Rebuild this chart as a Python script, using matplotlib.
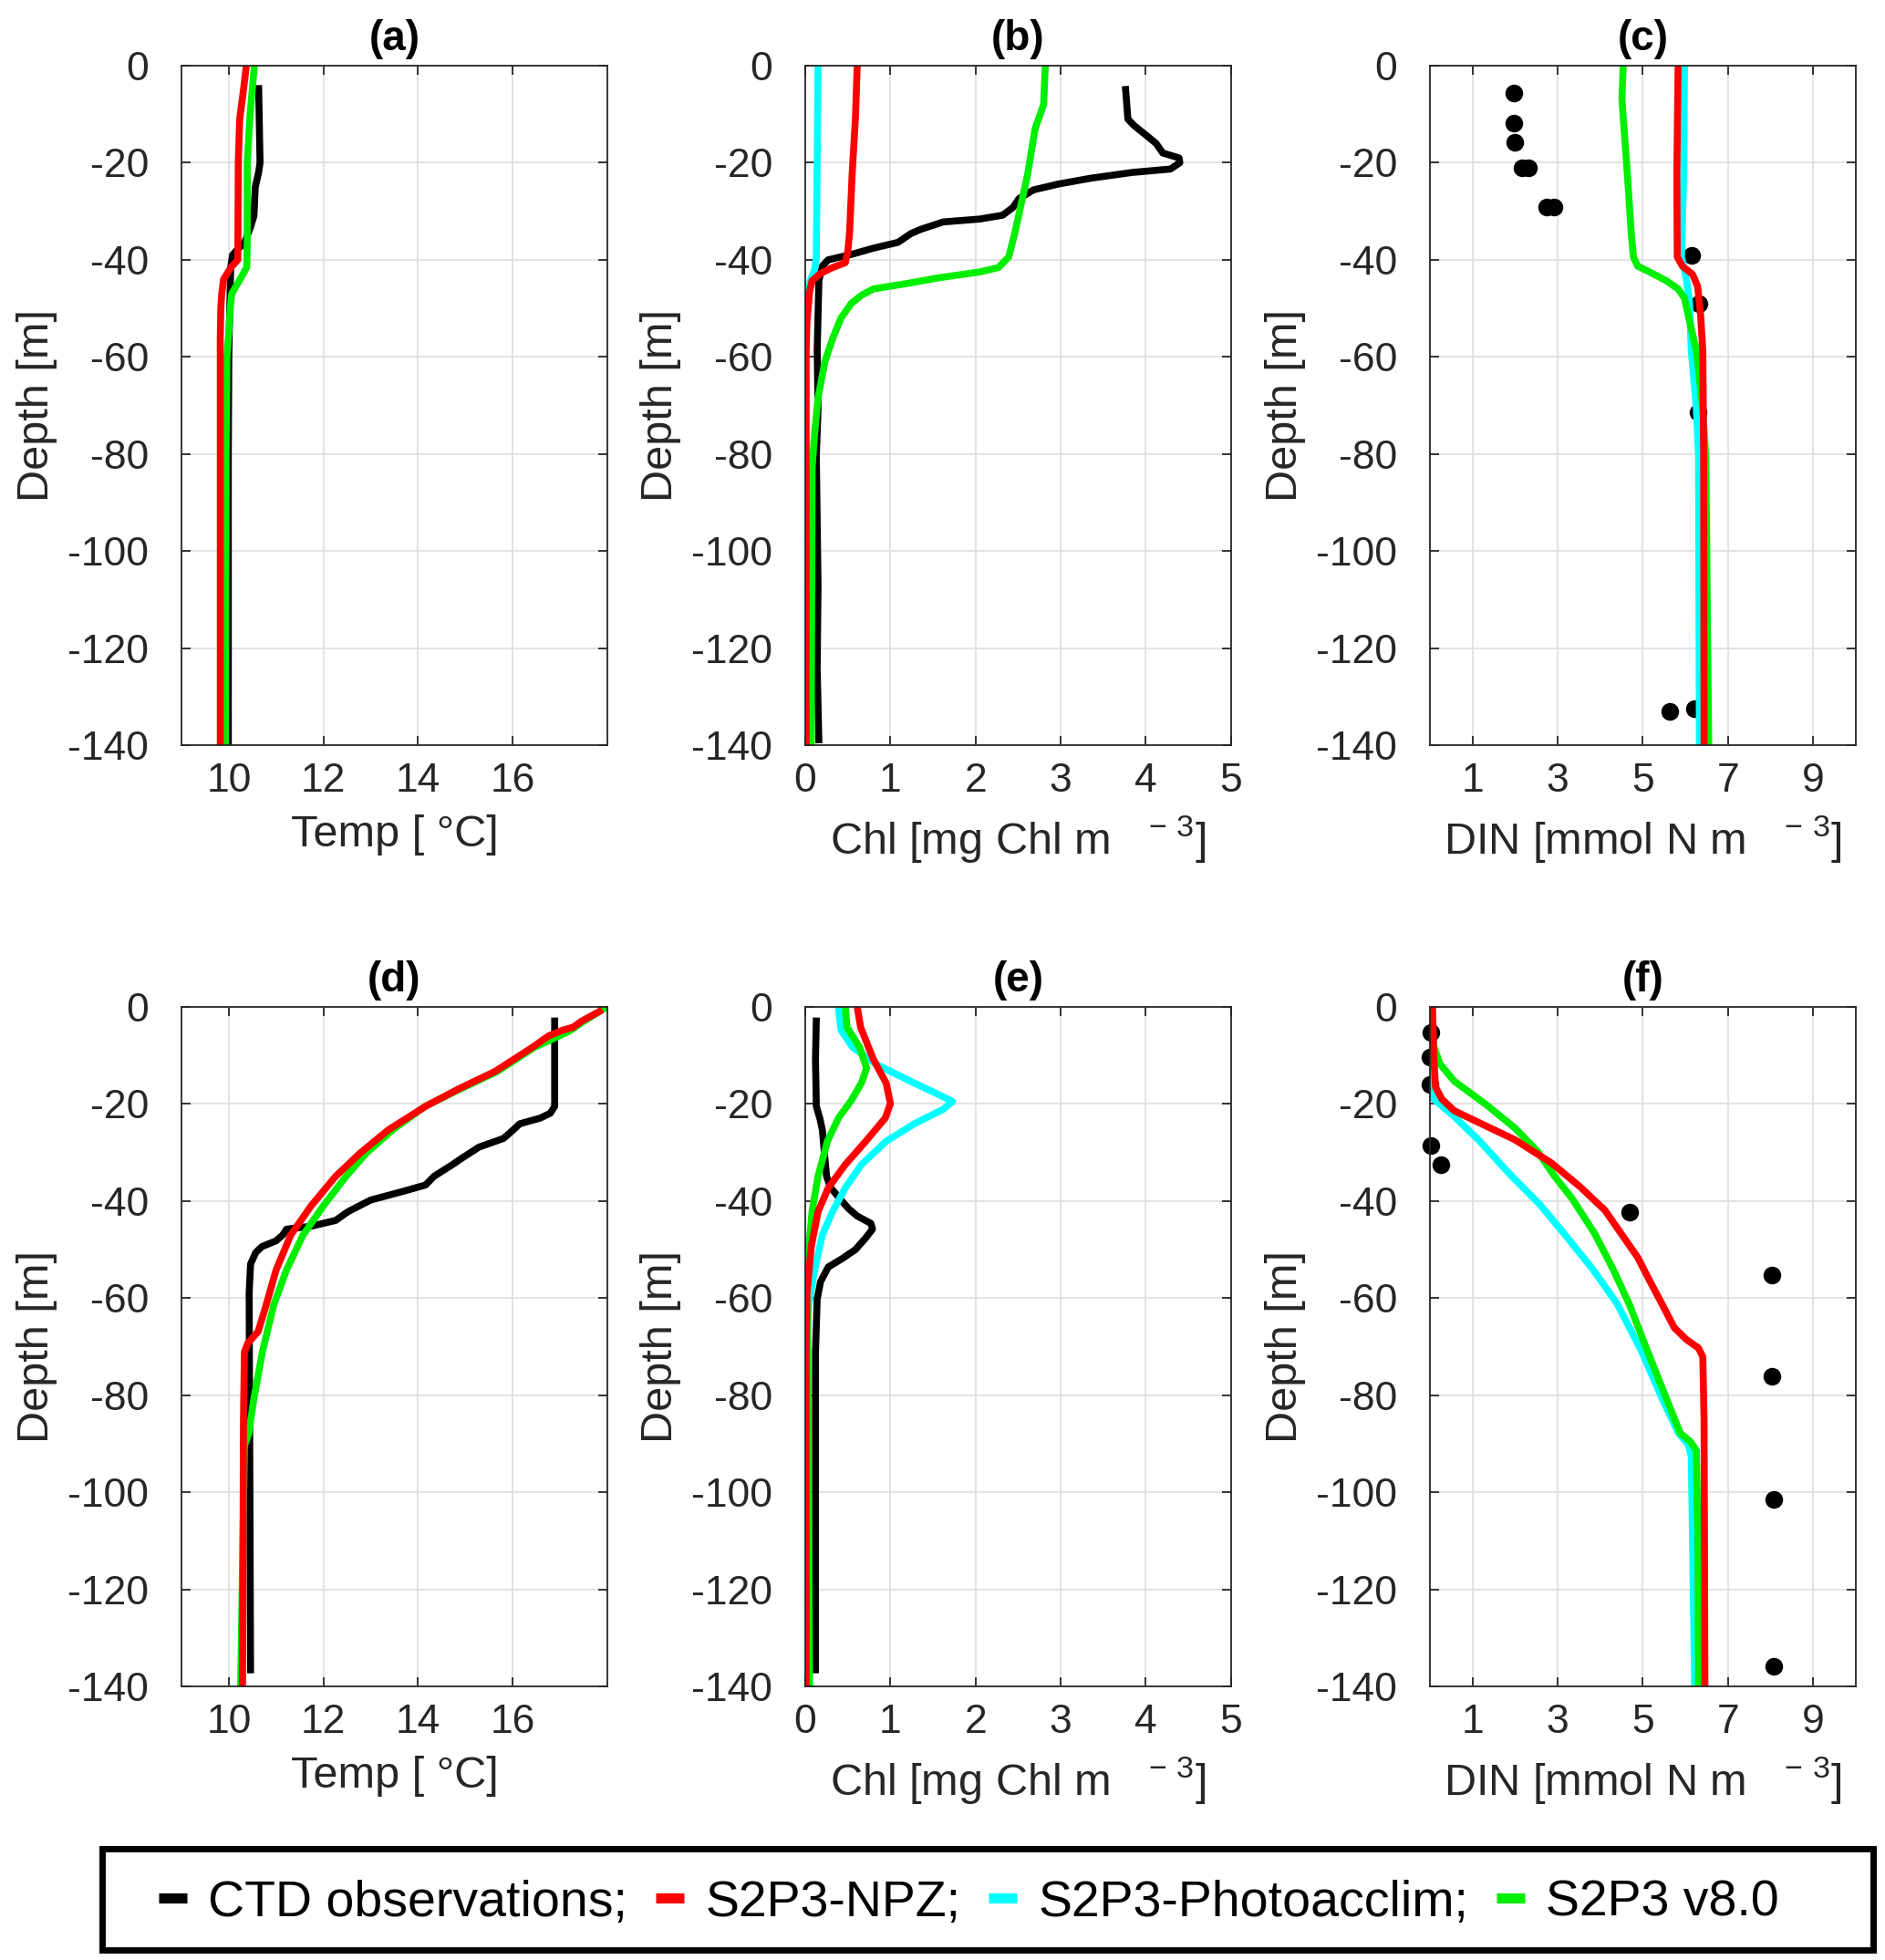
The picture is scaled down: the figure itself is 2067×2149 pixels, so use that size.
import matplotlib
matplotlib.use('Agg')
import matplotlib.pyplot as plt
from matplotlib.lines import Line2D
from matplotlib.patches import Rectangle

plt.rcParams['font.family'] = ['Liberation Sans', 'DejaVu Sans']
plt.rcParams['axes.unicode_minus'] = False
plt.rcParams['mathtext.fontset'] = 'custom'
plt.rcParams['mathtext.rm'] = 'Liberation Sans'

# ---- (a) temperature, first station ----
a_obs_z = [-4, -20, -22, -25, -31, -33.5, -36.5, -38, -39, -41.5, -50, -60, -80, -140]
a_obs_t = [10.63, 10.66, 10.63, 10.56, 10.53, 10.45, 10.33, 10.17, 10.08, 10.04, 10.02, 10.0, 9.99, 9.99]
a_npz_z = [0, -5, -11, -20, -40, -41.5, -44, -47, -50, -56, -60, -140]
a_npz_t = [10.37, 10.31, 10.23, 10.2, 10.19, 10.05, 9.89, 9.85, 9.83, 9.82, 9.82, 9.82]
a_v8_z = [0, -10, -20, -36, -41.5, -44, -46, -47, -50, -55, -60, -80, -140]
a_v8_t = [10.54, 10.45, 10.39, 10.39, 10.38, 10.24, 10.12, 10.06, 10.03, 10.0, 9.96, 9.94, 9.93]

# ---- (b) chlorophyll, first station ----
b_obs_z = [-4.2, -11, -12.3, -14.7, -16, -18, -19, -20, -21.3, -22, -23.2, -24.4, -25.6, -27.4,
           -29.2, -30.8, -31.6, -32.2, -33.7, -34.6, -36.4, -37.6, -38.8, -40, -41.3, -44.3,
           -58.7, -70.8, -80.5, -107, -124, -139.6]
b_obs_c = [3.76, 3.79, 3.86, 4.03, 4.12, 4.2, 4.39, 4.4, 4.29, 3.84, 3.35, 2.97, 2.68, 2.51,
           2.44, 2.32, 2.05, 1.62, 1.36, 1.24, 1.09, 0.8, 0.56, 0.27, 0.2, 0.16,
           0.14, 0.15, 0.13, 0.15, 0.14, 0.16]
b_npz_z = [0, -10.5, -22.6, -34.6, -38.2, -40.6, -41.6, -42.8, -44.3, -46.7, -52.7, -58.7, -140]
b_npz_c = [0.61, 0.59, 0.55, 0.52, 0.5, 0.47, 0.32, 0.18, 0.08, 0.05, 0.02, 0.01, 0.01]
b_pho_z = [0, -39.4, -41.9, -44.3, -49, -55, -140]
b_pho_c = [0.15, 0.13, 0.11, 0.06, 0.01, 0.0, 0.0]
b_v8_z = [0, -8, -13, -22.6, -34.6, -39.4, -41.6, -42.5, -43.7, -44.9, -46, -47.3, -49, -52,
          -56.3, -61, -68.4, -75.6, -82.9, -140]
b_v8_c = [2.82, 2.8, 2.7, 2.61, 2.46, 2.39, 2.27, 2.05, 1.57, 1.19, 0.8, 0.66, 0.54, 0.42,
          0.32, 0.23, 0.15, 0.11, 0.08, 0.07]

# ---- (c) DIN, first station ----
c_obs_z = [-5.7, -11.9, -15.7, -21.1, -21.1, -29.1, -29.1, -39.1, -49, -71.4, -132.4, -133]
c_obs_n = [1.97, 1.97, 2.0, 2.17, 2.32, 2.75, 2.92, 6.14, 6.31, 6.3, 6.22, 5.64]
c_npz_z = [0, -22.6, -39.4, -41.3, -43, -45.5, -51.5, -58.7, -80, -140]
c_npz_n = [5.83, 5.8, 5.81, 5.93, 6.17, 6.29, 6.36, 6.41, 6.43, 6.44]
c_pho_z = [0, -22.6, -39.4, -44.3, -49, -58.7, -70.8, -80.5, -140]
c_pho_n = [5.98, 5.96, 5.91, 6.03, 6.1, 6.14, 6.26, 6.31, 6.33]
c_v8_z = [0, -6.9, -22.6, -34.6, -39.4, -41.3, -42.5, -44.3, -46, -47.9, -51.5, -58.7, -70.8, -80.5, -140]
c_v8_n = [4.54, 4.51, 4.64, 4.73, 4.78, 4.88, 5.16, 5.55, 5.83, 5.98, 6.07, 6.26, 6.41, 6.48, 6.55]

# ---- (d) temperature, second station ----
d_obs_z = [-2.2, -20.5, -21.9, -22.9, -24.1, -25.3, -27.1, -28.9, -31.1, -32.5, -34.9, -36.7, -38,
           -39.8, -42.2, -44, -45.2, -45.8, -47, -48.2, -49.4, -50.6, -53, -59, -137.3]
d_obs_t = [16.89, 16.89, 16.8, 16.59, 16.15, 16.02, 15.81, 15.29, 14.94, 14.73, 14.34, 14.16, 13.69,
           13.0, 12.52, 12.26, 11.74, 11.22, 11.14, 11.0, 10.7, 10.57, 10.46, 10.43, 10.46]
d_npz_z = [-0.6, -3, -4.2, -4.8, -6, -8.4, -13.3, -16.9, -20.5, -25.3, -30.1, -34.9, -41, -47,
           -54.2, -61.4, -66.9, -69.3, -71.1, -85, -140]
d_npz_t = [17.9, 17.45, 17.28, 17.06, 16.76, 16.41, 15.63, 14.86, 14.16, 13.38, 12.78, 12.26, 11.74, 11.31,
           11.0, 10.79, 10.62, 10.4, 10.33, 10.31, 10.29]
d_v8_z = [0, -3, -5, -8.4, -13.3, -16.9, -20.5, -25.3, -30.1, -34.9, -41, -47, -54.2, -61.4,
          -71.1, -80.7, -88, -90.4, -140]
d_v8_t = [18.0, 17.5, 17.2, 16.45, 15.68, 14.9, 14.15, 13.47, 12.91, 12.48, 12.0, 11.57, 11.22, 10.95,
          10.71, 10.53, 10.42, 10.33, 10.25]

# ---- (e) chlorophyll, second station ----
e_obs_z = [-2.2, -10.8, -20.5, -22.9, -25.3, -34.9, -37.3, -39.8, -41.6, -43.1, -44.6, -45.8, -47.6,
           -50, -51.8, -53.6, -56.6, -60.2, -71.1, -137.3]
e_obs_c = [0.13, 0.12, 0.13, 0.17, 0.2, 0.25, 0.3, 0.42, 0.51, 0.61, 0.77, 0.79, 0.71,
           0.59, 0.44, 0.27, 0.18, 0.14, 0.12, 0.12]
e_npz_z = [0, -4.2, -10.8, -15.7, -19.9, -22.9, -27.7, -32.5, -37.3, -42.2, -49.4, -59, -71.1, -140]
e_npz_c = [0.61, 0.65, 0.8, 0.95, 1.0, 0.94, 0.71, 0.47, 0.27, 0.15, 0.07, 0.02, 0.01, 0.01]
e_pho_z = [0, -4.8, -8.4, -12, -15.7, -18.1, -19.5, -21.1, -24.1, -27.7, -32.5, -37.3, -42.2, -47,
           -54.2, -61.4, -71.1, -140]
e_pho_c = [0.39, 0.42, 0.56, 0.85, 1.28, 1.57, 1.73, 1.62, 1.28, 0.95, 0.66, 0.47, 0.32, 0.2,
           0.11, 0.04, 0.01, 0.0]
e_v8_z = [0, -4.2, -8.4, -12.6, -15.7, -19.3, -22.9, -27.7, -34.9, -42.2, -51.8, -59, -71.1, -140]
e_v8_c = [0.47, 0.49, 0.64, 0.72, 0.66, 0.54, 0.39, 0.26, 0.15, 0.08, 0.03, 0.02, 0.03, 0.05]

# ---- (f) DIN, second station ----
f_obs_z = [-5.3, -10.3, -15.9, -28.6, -32.6, -42.3, -55.3, -76.1, -101.5, -135.9]
f_obs_n = [0.02, 0.0, 0.0, 0.02, 0.26, 4.7, 8.04, 8.04, 8.07, 8.08]
f_npz_z = [0, -10.5, -16.5, -19, -21.4, -23.8, -27.4, -32.2, -37.1, -41.9, -46.7, -51.6, -56.4,
           -61.2, -66.1, -68.5, -70.3, -72.1, -85, -140]
f_npz_n = [0.06, 0.09, 0.13, 0.28, 0.57, 1.14, 2.0, 2.86, 3.53, 4.11, 4.49, 4.88, 5.16,
           5.45, 5.74, 6.02, 6.31, 6.41, 6.44, 6.46]
f_pho_z = [0, -15.3, -19, -22.6, -27.4, -34.7, -40.7, -46.7, -54, -61.2, -70.9, -80.6, -87.8,
           -90.2, -92.6, -140]
f_pho_n = [0.0, 0.0, 0.09, 0.57, 1.14, 1.9, 2.58, 3.15, 3.82, 4.4, 4.97, 5.45, 5.84,
           6.07, 6.14, 6.22]
f_v8_z = [0, -8.1, -11.7, -15.3, -20.2, -25, -29.8, -34.7, -39.5, -46.7, -54, -61.2, -70.9,
          -80.6, -87.8, -89.6, -91.4, -107, -140]
f_v8_n = [0.0, 0.09, 0.23, 0.57, 1.33, 2.0, 2.53, 2.91, 3.34, 3.87, 4.3, 4.68, 5.11,
          5.55, 5.88, 6.12, 6.26, 6.29, 6.31]

legend_labels = ['CTD observations;', 'S2P3-NPZ;', 'S2P3-Photoacclim;', 'S2P3 v8.0']
c_obs, c_npz, c_pho, c_v8 = 'black', '#ff0000', '#00ffff', '#00ee00'

temp_label = 'Temp [ °C]'
chl_label = r'Chl [mg Chl m   $^{\mathregular{-\ 3}}$]'
din_label = r'DIN [mmol N m   $^{\mathregular{-\ 3}}$]'

LW = 5.5
fig = plt.figure(figsize=(20.67, 21.49), dpi=100)

lefts = [0.0963, 0.4272, 0.7586]
bottoms = [0.6198, 0.1396]
W, H = 0.2258, 0.3467


def setup(ax, title, xlim, xticks, xlabel):
    ax.set_xlim(xlim)
    ax.set_ylim(-140, 0)
    ax.set_xticks(xticks)
    ax.set_yticks(range(-140, 1, 20))
    ax.grid(True, color='0.88', lw=1.3)
    ax.set_axisbelow(True)
    ax.tick_params(direction='in', top=True, right=True, length=7, width=1.3,
                   labelsize=32, colors='0.15')
    ax.tick_params(axis='x', pad=14)
    ax.tick_params(axis='y', pad=26)
    for s in ax.spines.values():
        s.set_color('0.15')
        s.set_linewidth(1.3)
    ax.set_xlabel(xlabel, fontsize=35, color='0.15', labelpad=11)
    ax.set_ylabel('Depth [m]', fontsize=35, color='0.15', labelpad=8)
    ax.set_title(title, fontsize=33, fontweight='bold', pad=12)


def line(ax, x, z, color):
    ax.plot(x, z, color=color, lw=LW, solid_joinstyle='round', solid_capstyle='butt')


def dots(ax, x, z):
    ax.plot(x, z, 'o', color='black', ms=13, clip_on=False, zorder=1.5)


# top row
ax = fig.add_axes([lefts[0], bottoms[0], W, H])
setup(ax, '(a)', (9, 18), [10, 12, 14, 16], temp_label)
line(ax, a_obs_t, a_obs_z, c_obs)
line(ax, a_v8_t, a_v8_z, c_v8)
line(ax, a_npz_t, a_npz_z, c_npz)

ax = fig.add_axes([lefts[1], bottoms[0], W, H])
setup(ax, '(b)', (0, 5), [0, 1, 2, 3, 4, 5], chl_label)
line(ax, b_obs_c, b_obs_z, c_obs)
line(ax, b_pho_c, b_pho_z, c_pho)
line(ax, b_v8_c, b_v8_z, c_v8)
line(ax, b_npz_c, b_npz_z, c_npz)

ax = fig.add_axes([lefts[2], bottoms[0], W, H])
setup(ax, '(c)', (0, 10), [1, 3, 5, 7, 9], din_label)
dots(ax, c_obs_n, c_obs_z)
line(ax, c_pho_n, c_pho_z, c_pho)
line(ax, c_v8_n, c_v8_z, c_v8)
line(ax, c_npz_n, c_npz_z, c_npz)

# bottom row
ax = fig.add_axes([lefts[0], bottoms[1], W, H])
setup(ax, '(d)', (9, 18), [10, 12, 14, 16], temp_label)
line(ax, d_obs_t, d_obs_z, c_obs)
line(ax, d_v8_t, d_v8_z, c_v8)
line(ax, d_npz_t, d_npz_z, c_npz)

ax = fig.add_axes([lefts[1], bottoms[1], W, H])
setup(ax, '(e)', (0, 5), [0, 1, 2, 3, 4, 5], chl_label)
line(ax, e_obs_c, e_obs_z, c_obs)
line(ax, e_pho_c, e_pho_z, c_pho)
line(ax, e_v8_c, e_v8_z, c_v8)
line(ax, e_npz_c, e_npz_z, c_npz)

ax = fig.add_axes([lefts[2], bottoms[1], W, H])
setup(ax, '(f)', (0, 10), [1, 3, 5, 7, 9], din_label)
dots(ax, f_obs_n, f_obs_z)
line(ax, f_pho_n, f_pho_z, c_pho)
line(ax, f_v8_n, f_v8_z, c_v8)
line(ax, f_npz_n, f_npz_z, c_npz)

# legend in a box along the bottom
handles = [Line2D([], [], color=c, lw=8, solid_capstyle='butt')
           for c in (c_obs, c_npz, c_pho, c_v8)]
fig.legend(handles, legend_labels, loc='center', bbox_to_anchor=(0.514, 0.029),
           ncol=4, frameon=False, fontsize=40, handlelength=0.56,
           handletextpad=0.41, columnspacing=0.56)
fig.patches.append(Rectangle((0.0542, 0.0051), 0.9395, 0.0517, transform=fig.transFigure,
                             fill=False, lw=5, ec='black'))

fig.savefig('out.png', dpi=100)
